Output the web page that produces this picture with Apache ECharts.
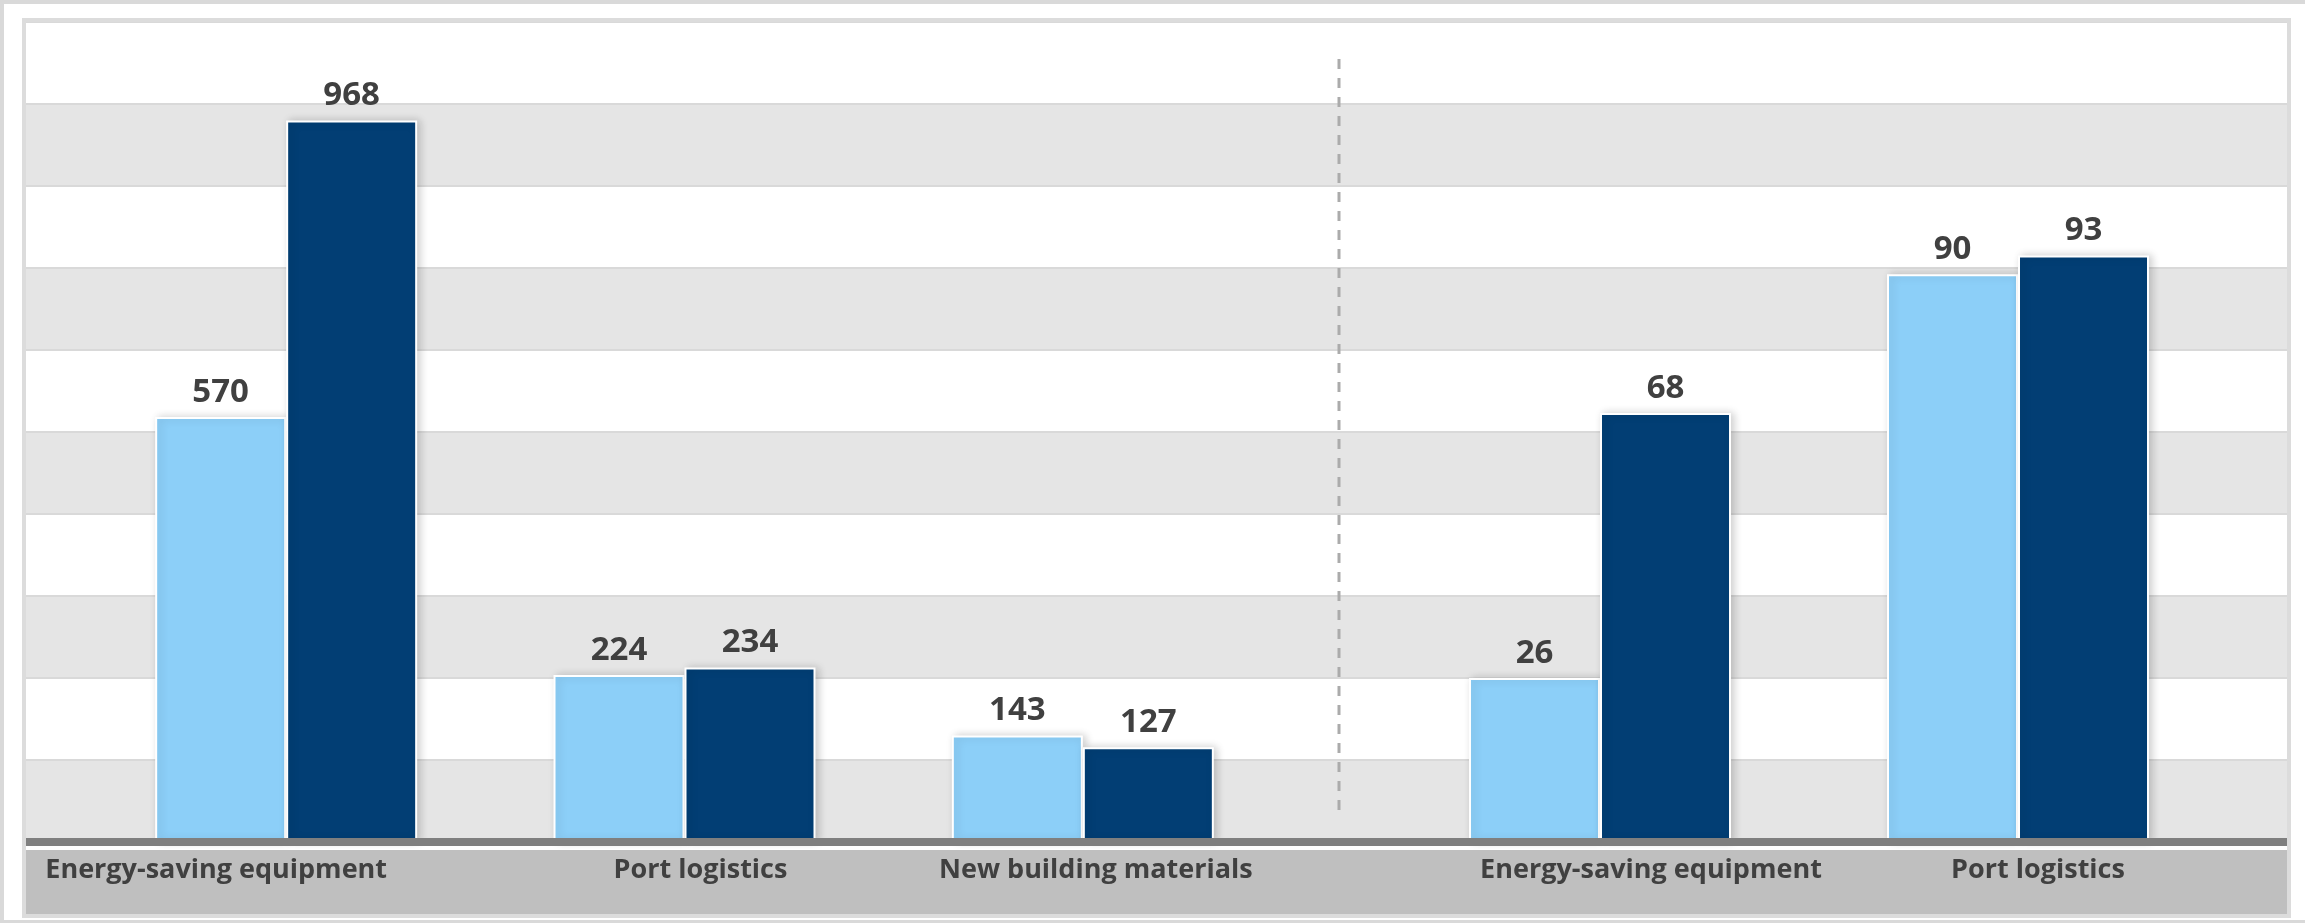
<!DOCTYPE html>
<html>
<head>
<meta charset="utf-8">
<script src="https://cdn.jsdelivr.net/npm/echarts@6/dist/echarts.min.js"></script>
<style>
html,body{margin:0;padding:0;background:#fff;}
#chart{width:2305px;height:923px;}
</style>
</head>
<body>
<div id="chart"></div>
<script>
// ---- data ----
const categoriesLeft = ['Energy-saving equipment', 'Port logistics', 'New building materials'];
const categoriesRight = ['Energy-saving equipment', 'Port logistics'];
const leftSeriesA = [570, 224, 143];
const leftSeriesB = [968, 234, 127];
const rightSeriesA = [26, 90];
const rightSeriesB = [68, 93];
const leftAxisMax = 1100;
const leftAxisInterval = 110;
const rightAxisMax = 130;

// ---- styles ----
const FONT = "'Open Sans', 'Noto Sans', sans-serif";
const LIGHT = '#8ccff8';
const DARK = '#023e74';
const TEXT = '#404040';

const chart = echarts.init(document.getElementById('chart'), null, {renderer: 'canvas'});

function catLabel(pads) {
  const rich = {};
  pads.forEach((p, i) => {
    rich['c' + i] = {fontFamily: FONT, fontSize: 27, fontWeight: 'bold', color: TEXT, lineHeight: 30, padding: p};
  });
  return {
    show: true,
    margin: 9,
    interval: 0,
    formatter: (v, i) => '{c' + i + '|' + v + '}',
    rich: rich
  };
}

const barItem = (color) => ({
  color: color,
  borderColor: '#ffffff',
  borderWidth: 2,
  shadowBlur: 8,
  shadowColor: 'rgba(0,0,0,0.18)',
  shadowOffsetX: 3,
  shadowOffsetY: 0
});

const valueLabel = {
  show: true,
  position: 'top',
  distance: 8,
  fontFamily: FONT,
  fontSize: 33,
  fontWeight: 'bold',
  color: TEXT
};

const option = {
  backgroundColor: '#ffffff',
  animation: false,
  grid: [
    {left: 26, right: 18, top: 22, bottom: 81},
    {left: 87, width: 1195, top: 22, bottom: 81},
    {left: 1391, width: 836, top: 22, bottom: 81}
  ],
  xAxis: [
    {
      gridIndex: 0, type: 'category', data: [''], offset: 4, z: 5,
      axisLine: {show: true, lineStyle: {color: '#7f7f7f', width: 8}},
      axisTick: {show: false}, axisLabel: {show: false}, splitLine: {show: false}
    },
    {
      gridIndex: 1, type: 'category', data: categoriesLeft, offset: 4, z: 6,
      axisLine: {show: false}, axisTick: {show: false},
      axisLabel: catLabel([[0, 140, 0, 0], [0, 0, 0, 32], [0, 0, 0, 26]])
    },
    {
      gridIndex: 2, type: 'category', data: categoriesRight, offset: 4, z: 6,
      axisLine: {show: false}, axisTick: {show: false},
      axisLabel: catLabel([[0, 0, 0, 102], [0, 0, 0, 40]])
    }
  ],
  yAxis: [
    {
      gridIndex: 0, type: 'value', min: 0, max: leftAxisMax, interval: leftAxisInterval,
      axisLine: {show: false}, axisTick: {show: false}, axisLabel: {show: false},
      splitArea: {show: true, areaStyle: {color: ['#e5e5e5', '#ffffff']}},
      splitLine: {show: true, lineStyle: {color: '#d9d9d9', width: 2}}
    },
    {gridIndex: 1, type: 'value', min: 0, max: leftAxisMax, show: false, splitLine: {show: false}},
    {gridIndex: 2, type: 'value', min: 0, max: rightAxisMax, show: false, splitLine: {show: false}}
  ],
  series: [
    {name: 'Series 1', type: 'bar', xAxisIndex: 1, yAxisIndex: 1, data: leftSeriesA,
     barWidth: 131, barGap: '0%', itemStyle: barItem(LIGHT), label: valueLabel},
    {name: 'Series 2', type: 'bar', xAxisIndex: 1, yAxisIndex: 1, data: leftSeriesB,
     barWidth: 131, barGap: '0%', itemStyle: barItem(DARK), label: valueLabel},
    {name: 'Series 1', type: 'bar', xAxisIndex: 2, yAxisIndex: 2, data: rightSeriesA,
     barWidth: 131, barGap: '0%', itemStyle: barItem(LIGHT), label: valueLabel},
    {name: 'Series 2', type: 'bar', xAxisIndex: 2, yAxisIndex: 2, data: rightSeriesB,
     barWidth: 131, barGap: '0%', itemStyle: barItem(DARK), label: valueLabel}
  ],
  graphic: [
    // bottom label band
    {type: 'rect', z: 0, shape: {x: 26, y: 850, width: 2261, height: 64}, style: {fill: '#bfbfbf'}},
    // dashed divider
    {type: 'line', z: 10, shape: {x1: 1339, y1: 59, x2: 1339, y2: 812},
     style: {stroke: '#ababab', lineWidth: 3, lineDash: [10, 9]}},
    // inner frame
    {type: 'rect', z: 20, shape: {x: 24, y: 20, width: 2265, height: 896},
     style: {fill: null, stroke: '#dcdcdc', lineWidth: 4}},
    // outer frame (top, left, bottom)
    {type: 'line', z: 20, shape: {x1: 0, y1: 2, x2: 2305, y2: 2}, style: {stroke: '#d9d9d9', lineWidth: 4}},
    {type: 'line', z: 20, shape: {x1: 2, y1: 0, x2: 2, y2: 923}, style: {stroke: '#d9d9d9', lineWidth: 4}},
    {type: 'line', z: 20, shape: {x1: 0, y1: 921.5, x2: 2305, y2: 921.5}, style: {stroke: '#d9d9d9', lineWidth: 3}}
  ]
};

chart.setOption(option);
</script>
</body>
</html>
